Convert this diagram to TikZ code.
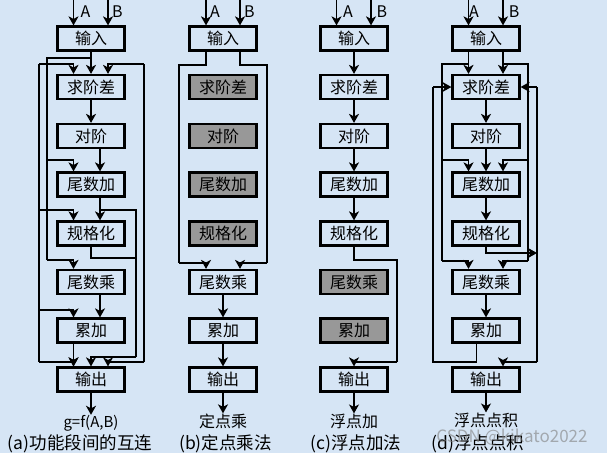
\documentclass[tikz,border=0pt]{standalone}
\usepackage{fontspec}
\newfontfamily\cjk{Noto Sans CJK SC}
\usetikzlibrary{arrows.meta}
\definecolor{bgblue}{RGB}{214,229,245}
\definecolor{boxgray}{RGB}{152,152,152}
\tikzset{
 blk/.style={draw, line width=2.2pt, minimum width=67pt, minimum height=24pt, inner sep=0pt, font=\cjk\fontsize{16}{16}\selectfont},
 gblk/.style={blk, fill=boxgray},
 ln/.style={line width=1.5pt},
 arr/.style={ln, -{Stealth[length=9pt,width=10pt,inset=2.5pt]}},
 lab/.style={font=\cjk\fontsize{16}{16}\selectfont, inner sep=0pt},
 res/.style={font=\cjk\fontsize{15}{15}\selectfont, inner sep=0pt},
 ab/.style={font=\cjk\fontsize{16}{16}\selectfont, inner sep=0pt},
 captxt/.style={font=\cjk\fontsize{17.5}{17.5}\selectfont, inner sep=0pt},
}
\begin{document}
\begin{tikzpicture}[x=1pt,y=-1pt]
\fill[bgblue] (0,0) rectangle (607,453);
\useasboundingbox (0,0) rectangle (607,453);

% ---------------- (a) ----------------
\begin{scope}[xshift=91pt]
\node[blk] (aIn) at (0,38.5) {输入};
\node[blk] (aQ) at (0,87) {求阶差};
\node[blk] (aD) at (0,136) {对阶};
\node[blk] (aW) at (0,184.5) {尾数加};
\node[blk] (aG) at (0,233.5) {规格化};
\node[blk] (aM) at (0,282) {尾数乘};
\node[blk] (aL) at (0,330.5) {累加};
\node[blk] (aO) at (0,379.5) {输出};
\node[res] (aRes) at (0,423) {g=f(A,B)};
\coordinate (aXl) at (-17.5,0); \coordinate (aXr) at (17,0);
\coordinate (aXm) at (9,0); \coordinate (aXc) at (0,0);
\draw[arr] (aXl) -- (aXl |- aIn.north);
\draw[arr] (aXr) -- (aXr |- aIn.north);
\node[ab] (aA) at (-5.5,12) {A};
\node[ab] (aB) at (26.5,12) {B};
\draw[arr] (aIn) -- (aQ);
\coordinate (aJ) at (0,58);
\coordinate (aL1w) at (-44,160); \coordinate (aL1m) at (-44,260);
\draw[ln] (aJ) -| (aL1m);
\draw[arr] (aL1w) -| (aXl |- aW.north);
\draw[arr] (aL1m) -| (aXl |- aM.north);
\coordinate (aL2q) at (-52,64); \coordinate (aL2g) at (-52,210);
\coordinate (aL2l) at (-52,310); \coordinate (aL2o) at (-52,362);
\draw[ln] (aL2q) -- (aL2o);
\draw[arr] (aL2q) -| (aXl |- aQ.north);
\draw[arr] (aL2g) -| (aXl |- aG.north);
\draw[arr] (aL2l) -| (aXl |- aL.north);
\draw[arr] (aL2o) -| (aXl |- aO.north);
\coordinate (aR2q) at (53,64); \coordinate (aR2o) at (53,362);
\draw[ln] (aR2q) -- (aR2o);
\draw[arr] (aR2q) -| (aXr |- aQ.north);
\draw[arr] (aR2o) -| (aXr |- aO.north);
\draw[arr] (aQ) -- (aD);
\draw[arr] (aXm |- aD.south) -- (aXm |- aW.north);
\draw[arr] (aXm |- aW.south) -- (aXm |- aG.north);
\coordinate (aR1w) at (45,210); \coordinate (aR1g) at (45,258); \coordinate (aR1o) at (45,357);
\draw[ln] (aXm |- aR1w) -- (aR1w) -- (aR1o);
\draw[ln] (aG.south) |- (aR1g);
\draw[arr] (aR1o) -| (aXc |- aO.north);
\draw[arr] (aXm |- aM.south) -- (aXm |- aL.north);
\draw[arr] (aXl |- aL.south) -- (aXl |- aO.north);
\draw[arr] (aO) -- (aRes);
\end{scope}

% ---------------- (b) ----------------
\begin{scope}[xshift=223pt]
\node[blk] (bIn) at (0,38.5) {输入};
\node[gblk] (bQ) at (0,87) {求阶差};
\node[gblk] (bD) at (0,136) {对阶};
\node[gblk] (bW) at (0,184.5) {尾数加};
\node[gblk] (bG) at (0,233.5) {规格化};
\node[blk] (bM) at (0,282) {尾数乘};
\node[blk] (bL) at (0,330.5) {累加};
\node[blk] (bO) at (0,379.5) {输出};
\node[lab] (bRes) at (0,421) {定点乘};
\coordinate (bXl) at (-17,0); \coordinate (bXr) at (17,0);
\draw[arr] (bXl) -- (bXl |- bIn.north);
\draw[arr] (bXr) -- (bXr |- bIn.north);
\node[ab] (bA) at (-8,12) {A};
\node[ab] (bB) at (26.5,12) {B};
\coordinate (bLt) at (-44,65); \coordinate (bLb) at (-44,263);
\coordinate (bRt) at (44,65); \coordinate (bRb) at (44,263);
\draw[ln] (bXl |- bIn.south) |- (bLt) -- (bLb);
\draw[arr] (bLb) -| (bXl |- bM.north);
\draw[ln] (bXr |- bIn.south) |- (bRt) -- (bRb);
\draw[arr] (bRb) -| (bXr |- bM.north);
\draw[arr] (bM) -- (bL);
\draw[arr] (bL) -- (bO);
\draw[arr] (bO) -- (bRes);
\end{scope}

% ---------------- (c) ----------------
\begin{scope}[xshift=354pt]
\node[blk] (cIn) at (0,38.5) {输入};
\node[blk] (cQ) at (0,87) {求阶差};
\node[blk] (cD) at (0,136) {对阶};
\node[blk] (cW) at (0,184.5) {尾数加};
\node[blk] (cG) at (0,233.5) {规格化};
\node[gblk] (cM) at (0,282) {尾数乘};
\node[gblk] (cL) at (0,330.5) {累加};
\node[blk] (cO) at (0,379.5) {输出};
\node[lab] (cRes) at (0,421) {浮点加};
\coordinate (cXl) at (-17.5,0); \coordinate (cXr) at (17,0);
\draw[arr] (cXl) -- (cXl |- cIn.north);
\draw[arr] (cXr) -- (cXr |- cIn.north);
\node[ab] (cA) at (-6,12) {A};
\node[ab] (cB) at (28,12) {B};
\draw[arr] (cIn) -- (cQ);
\draw[arr] (cQ) -- (cD);
\draw[arr] (cD) -- (cW);
\draw[arr] (cW) -- (cG);
\coordinate (cTa) at (43,260); \coordinate (cTb) at (43,362);
\draw[ln] (cG.south) |- (cTa) -- (cTb);
\draw[arr] (cTb) -| (cO.north);
\draw[arr] (cO) -- (cRes);
\end{scope}

% ---------------- (d) ----------------
\begin{scope}[xshift=486pt]
\node[blk] (dIn) at (0,38.5) {输入};
\node[blk] (dQ) at (0,87) {求阶差};
\node[blk] (dD) at (0,136) {对阶};
\node[blk] (dW) at (0,184.5) {尾数加};
\node[blk] (dG) at (0,233.5) {规格化};
\node[blk] (dM) at (0,282) {尾数乘};
\node[blk] (dL) at (0,330.5) {累加};
\node[blk] (dO) at (0,379.5) {输出};
\node[lab] (dRes) at (0,420) {浮点点积};
\coordinate (dXl) at (-17.5,0); \coordinate (dXr) at (17,0); \coordinate (dXk) at (-9.5,0);
\draw[arr] (dXl) -- (dXl |- dIn.north);
\draw[arr] (dXr) -- (dXr |- dIn.north);
\node[ab] (dA) at (-12,12) {A};
\node[ab] (dB) at (28,12) {B};
\draw[arr] (dXl |- dIn.south) -- (dXl |- dQ.north);
\draw[arr] (dXr |- dIn.south) -- (dXr |- dQ.north);
\coordinate (dL1t) at (-44,64); \coordinate (dL1w) at (-44,160); \coordinate (dL1m) at (-44,261);
\draw[ln] (dXl |- dL1t) -- (dL1t) -- (dL1m);
\draw[arr] (dL1w) -| (dXl |- dW.north);
\draw[arr] (dL1m) -| (dXl |- dM.north);
\coordinate (dR1t) at (42,64); \coordinate (dR1w) at (42,160); \coordinate (dR1m) at (42,261);
\draw[ln] (dXr |- dR1t) -- (dR1t) -- (dR1m);
\draw[arr] (dR1w) -| (dXr |- dW.north);
\draw[arr] (dR1m) -| (dXr |- dM.north);
\draw[arr] (dQ) -- (dD);
\draw[arr] (dD) -- (dW);
\draw[arr] (dW) -- (dG);
\draw[arr] (dM) -- (dL);
\draw[arr] (dO) -- (dRes);
\coordinate (dL2q) at (-53,87); \coordinate (dL2o) at (-53,362);
\draw[ln] (dXk |- dL.south) |- (dL2o) -- (dL2q);
\draw[arr] (dL2q) -- (dQ.west);
\coordinate (dR2q) at (51,87); \coordinate (dR2g) at (51,253); \coordinate (dR2o) at (51,362);
\draw[ln] (dR2q) -- (dR2o);
\draw[arr] (dR2q) -- (dQ.east);
\draw[arr] (dG.south) |- (dR2g);
\draw[arr] (dR2o) -| (dXr |- dO.north);
\end{scope}

% captions
\node[captxt] (capa) at (80,444) {(a)功能段间的互连};
\node[captxt] (capb) at (225.5,444) {(b)定点乘法};
\node[captxt] (capc) at (356,444) {(c)浮点加法};
\node[captxt] (capd) at (478,444) {(d)浮点点积};
\node[font=\cjk\fontsize{17}{17}\selectfont, text=gray, opacity=0.6, inner sep=0pt] (wm) at (512,437) {CSDN @kikato2022};
\end{tikzpicture}
\end{document}
